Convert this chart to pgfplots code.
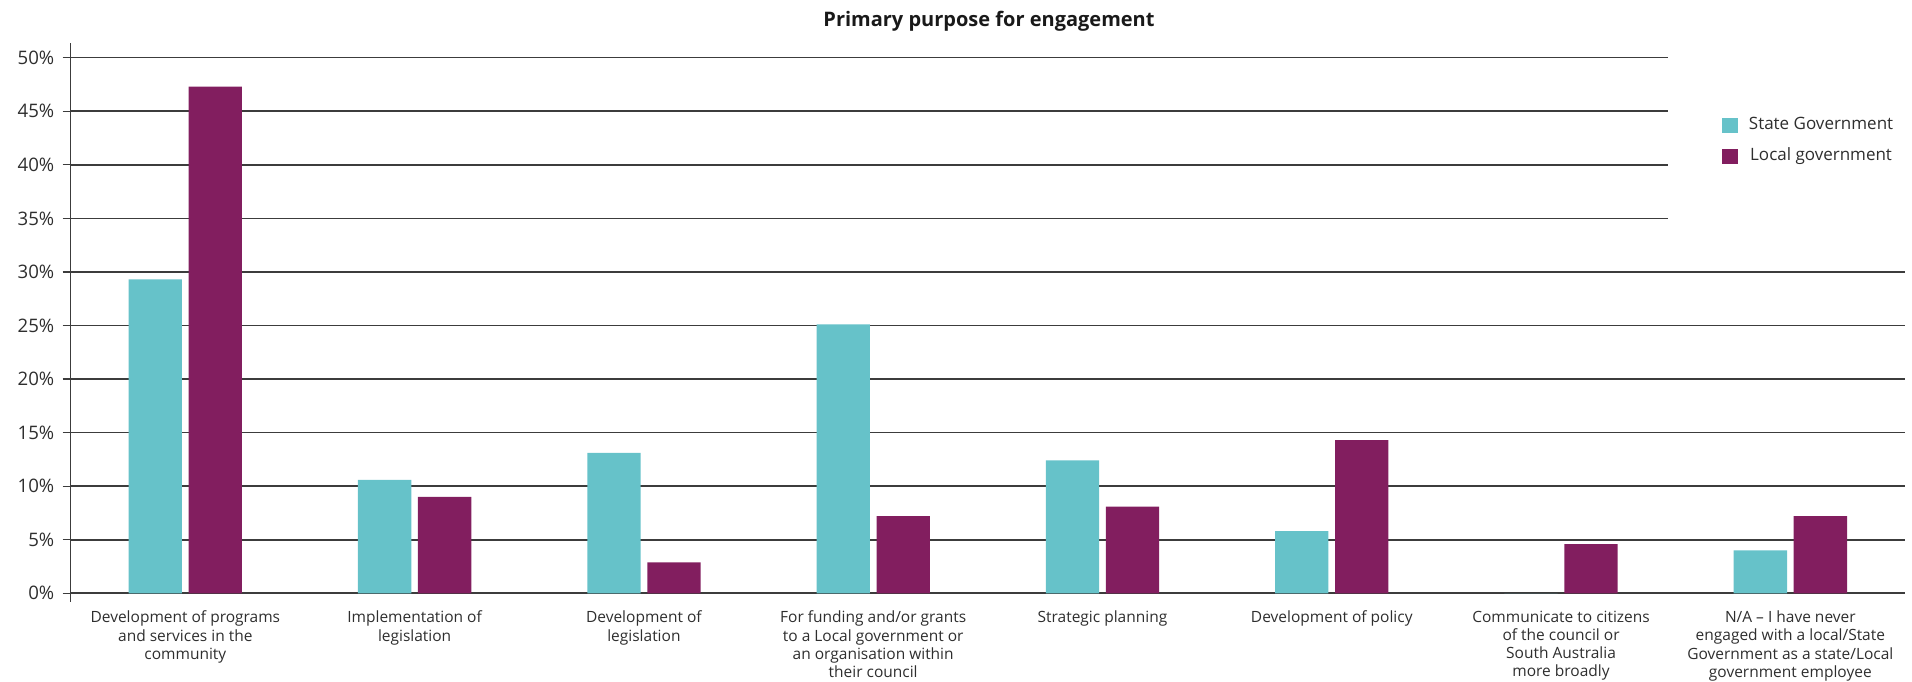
\documentclass[border=0pt]{standalone}
\usepackage{fontspec}
\setmainfont{Open Sans}
\usepackage{pgfplots}
\pgfplotsset{compat=1.18}
\definecolor{stateC}{HTML}{66C2C9}
\definecolor{localC}{HTML}{821E5F}
\definecolor{gridC}{HTML}{3C3C3C}
\definecolor{txtC}{HTML}{2E2E2E}
\pgfplotsset{sqlegend/.style={legend image code/.code={\fill[##1] (0pt,-3.925pt) rectangle (7.85pt,3.925pt);}}}
\begin{document}
\begin{tikzpicture}
\path[use as bounding box] (0,0) rectangle (956pt,340.5pt);
\node[anchor=base, font=\fontsize{10}{12}\selectfont\bfseries, text=black!90] at (494.5pt,327.15pt) {Primary purpose for engagement};
\begin{axis}[
  at={(35.35pt,39.65pt)}, anchor=south west,
  scale only axis, width=917.15pt, height=279.2pt,
  xmin=-0.5, xmax=7.5, ymin=-0.78, ymax=51.34,
  axis x line*=bottom, axis y line*=left,
  axis line style={-},
  x axis line style={draw=none},
  y axis line style={draw=gridC, line width=0.6pt},
  ybar=3.35pt, bar width=26.65pt,
  xtick={0,...,7}, xtick style={draw=none},
  xticklabels={
    {Development of programs\\and services in the\\community},
    {Implementation of\\legislation},
    {Development of\\legislation},
    {For funding and/or grants\\to a Local government or\\an organisation within\\their council},
    {Strategic planning},
    {Development of policy},
    {Communicate to citizens\\of the council or\\South Australia\\more broadly},
    {N/A – I have never\\engaged with a local/State\\Government as a state/Local\\government employee}},
  xticklabel style={align=center, anchor=north, inner sep=0pt, yshift=-0.5pt,
    font=\fontsize{7.75}{9.05}\selectfont, text=txtC},
  ytick={0,5,...,30},
  yticklabels={0\%,5\%,10\%,15\%,20\%,25\%,30\%},
  extra y ticks={35,40,45,50},
  extra y tick labels={35\%,40\%,45\%,50\%},
  extra y tick style={ymajorgrids=false},
  ymajorgrids=true,
  major grid style={draw=gridC, line width=0.85pt},
  tick align=outside, major tick length=4pt,
  ytick style={draw=gridC, line width=0.6pt},
  yticklabel style={font=\fontsize{9.3}{11}\selectfont, text=txtC, inner sep=0pt, xshift=-4pt},
  legend style={at={(axis description cs:0.9002,0.8673)}, anchor=north west,
    draw=none, fill=none, inner sep=0pt, outer sep=0pt, row sep=7.6pt,
    font=\fontsize{8.5}{10}\selectfont, text=txtC,
    nodes={inner sep=0pt, text height=6.2pt, text depth=1.8pt},
    /tikz/every odd column/.append style={column sep=5.65pt}},
]
\draw[draw=gridC, line width=0.85pt] (axis cs:-0.5,35) -- (axis cs:6.466,35);
\draw[draw=gridC, line width=0.85pt] (axis cs:-0.5,40) -- (axis cs:6.466,40);
\draw[draw=gridC, line width=0.85pt] (axis cs:-0.5,45) -- (axis cs:6.466,45);
\draw[draw=gridC, line width=0.85pt] (axis cs:-0.5,50) -- (axis cs:6.466,50);
\addplot[fill=stateC, draw=none, sqlegend]
  coordinates {(0,29.3) (1,10.6) (2,13.1) (3,25.1) (4,12.4) (5,5.8) (6,0) (7,4.0)};
\addlegendentry{State Government}
\addplot[fill=localC, draw=none, sqlegend]
  coordinates {(0,47.3) (1,9.0) (2,2.9) (3,7.2) (4,8.1) (5,14.3) (6,4.6) (7,7.2)};
\addlegendentry{Local government}
\end{axis}
\end{tikzpicture}
\end{document}
